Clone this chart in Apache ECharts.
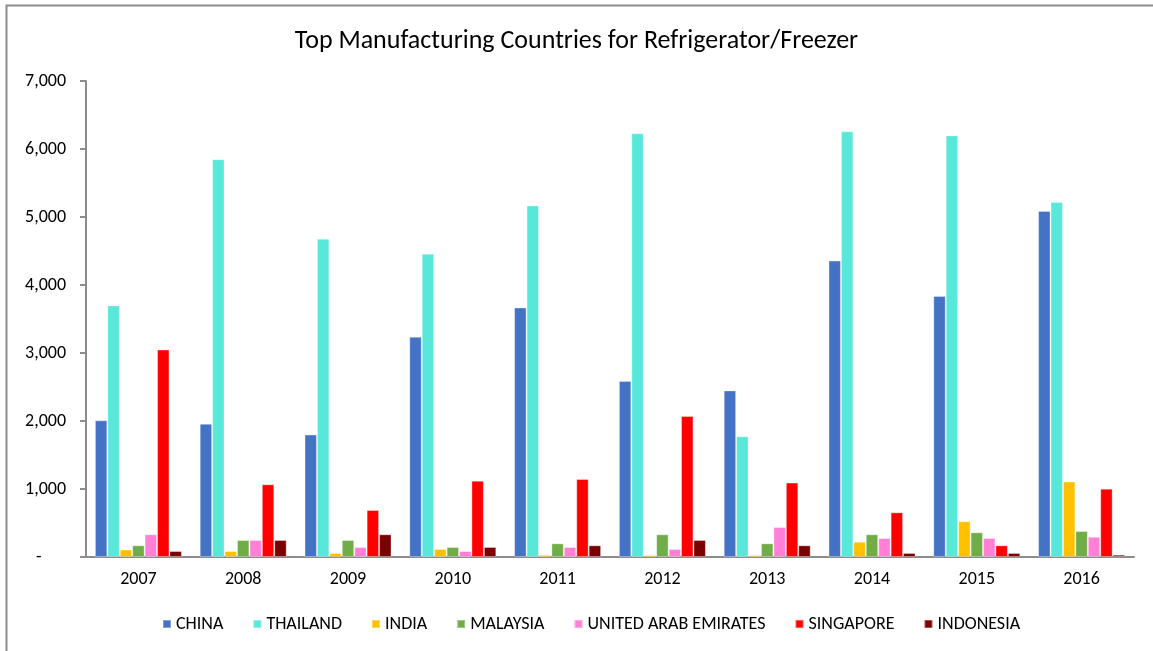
<!DOCTYPE html>
<html>
<head>
<meta charset="utf-8">
<script src="https://cdn.jsdelivr.net/npm/echarts@6/dist/echarts.min.js"></script>
<style>
  html, body { margin: 0; padding: 0; background: #fff; }
  #chart { width: 1153px; height: 651px; }
</style>
</head>
<body>
<div id="chart"></div>
<script>
// 数据
var years = ['2007', '2008', '2009', '2010', '2011', '2012', '2013', '2014', '2015', '2016'];
var china = [2010, 1960, 1800, 3240, 3670, 2590, 2450, 4360, 3840, 5090];
var thailand = [3700, 5850, 4680, 4460, 5170, 6230, 1775, 6260, 6200, 5220];
var india = [110, 88, 59, 118, 32, 30, 30, 225, 525, 1110];
var malaysia = [172, 250, 250, 147, 201, 334, 201, 334, 363, 382];
var uae = [334, 250, 147, 88, 147, 118, 441, 279, 279, 298];
var singapore = [3050, 1069, 691, 1122, 1147, 2074, 1095, 657, 172, 1005];
var indonesia = [88, 250, 334, 147, 172, 250, 172, 59, 59, 34];
var yTicks = [0, 1000, 2000, 3000, 4000, 5000, 6000, 7000];

var chart = echarts.init(document.getElementById('chart'));
var font = 'Carlito, Lato, sans-serif';

function bar(name, data, color) {
    return {
        name: name,
        type: 'bar',
        data: data,
        barGap: 0,
        barCategoryGap: '17%',
        itemStyle: { color: color, borderColor: 'rgba(255,255,255,0.35)', borderWidth: 1 }
    };
}

var option = {
    animation: false,
    backgroundColor: '#fff',
    title: {
        text: 'Top Manufacturing Countries for Refrigerator/Freezer',
        left: 'center',
        top: 23,
        textStyle: { fontFamily: font, fontSize: 26, fontWeight: 'normal', color: '#000' }
    },
    legend: {
        bottom: 13,
        left: 157,
        icon: 'rect',
        itemWidth: 8,
        itemHeight: 8,
        itemGap: 29,
        textStyle: { fontFamily: font, fontSize: 18, color: '#000', padding: [0, 0, 0, 0] }
    },
    grid: { left: 86, right: 19, top: 81, bottom: 94 },
    xAxis: {
        type: 'category',
        data: years,
        axisLine: { lineStyle: { color: '#8c8c8c', width: 2 } },
        axisTick: { length: 6, lineStyle: { color: '#8c8c8c', width: 2 } },
        axisLabel: { fontFamily: font, fontSize: 18, color: '#000', margin: 13 }
    },
    yAxis: {
        type: 'value',
        min: yTicks[0],
        max: yTicks[yTicks.length - 1],
        interval: 1000,
        splitLine: { show: false },
        axisLine: { show: true, lineStyle: { color: '#8c8c8c', width: 2 } },
        axisTick: { show: true, length: 6, lineStyle: { color: '#8c8c8c', width: 2 } },
        axisLabel: {
            fontFamily: font, fontSize: 18, color: '#000', margin: 20,
            formatter: function (v) {
                return v === 0 ? '-      ' : v.toLocaleString('en-US');
            }
        }
    },
    graphic: [{
        type: 'rect',
        shape: { x: 6.5, y: 5.5, width: 1200, height: 700 },
        style: { fill: 'none', stroke: '#8c8c8c', lineWidth: 2 },
        silent: true
    }],
    series: [
        bar('CHINA', china, '#4472c4'),
        bar('THAILAND', thailand, '#57e8d9'),
        bar('INDIA', india, '#ffc000'),
        bar('MALAYSIA', malaysia, '#70ad47'),
        bar('UNITED ARAB EMIRATES', uae, '#ff80d5'),
        bar('SINGAPORE', singapore, '#ff0000'),
        bar('INDONESIA', indonesia, '#7b0000')
    ]
};

chart.setOption(option);
</script>
</body>
</html>
